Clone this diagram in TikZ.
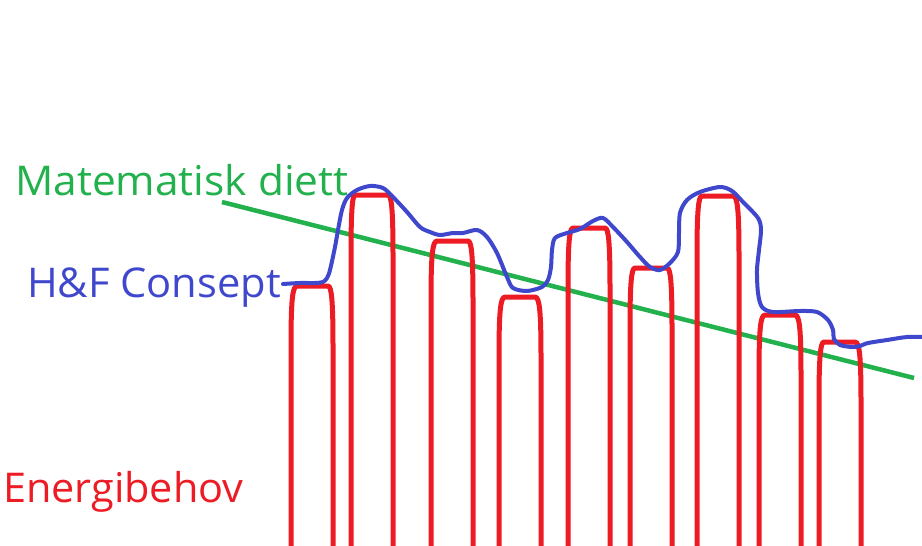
\documentclass[tikz,border=0pt]{standalone}
\usepackage{fontspec}
\setmainfont{Open Sans}
\definecolor{pgreen}{RGB}{34,177,76}
\definecolor{pred}{RGB}{237,28,36}
\definecolor{pblue}{RGB}{63,72,204}
\tikzset{
  lbl/.style={anchor=base west, inner sep=0pt, font=\fontsize{41}{48}\selectfont},
  redbar/.style={draw=pred, line width=5pt, line join=round},
  bluecurve/.style={draw=pblue, line width=4pt, line cap=round, line join=round},
  greenline/.style={draw=pgreen, line width=4.5pt},
}
\newcommand{\redarch}[5]{% lb rb lt rt top
  \draw[redbar] (#1,548) -- (#1,#5+60) .. controls (#1,#5+14) and (#1+1.5,#5) .. (#3,#5) -- (#4,#5) .. controls (#2-1.5,#5) and (#2,#5+14) .. (#2,#5+60) -- (#2,548);}
\begin{document}
\begin{tikzpicture}[x=1pt,y=-1pt]
\useasboundingbox (0,0) rectangle (922,546);
\fill[white] (0,0) rectangle (922,546);
\coordinate (gs) at (222,202);
\coordinate (ge) at (914,378);
\draw[greenline] (gs) -- (ge);
\redarch{291}{333}{297}{328}{286}
\redarch{351}{393}{355}{388}{195}
\redarch{431}{473}{437}{468}{241}
\redarch{499}{541}{505}{535}{297}
\redarch{568}{610}{573}{605}{228}
\redarch{630}{672}{635}{667}{268}
\redarch{697}{739}{702}{733}{196}
\redarch{759}{801}{765}{795}{315}
\redarch{819}{861}{824}{855}{342}
\draw[bluecurve] plot[smooth, tension=0.5] coordinates {
(283,284)(300,283)(315,283)(323,282)(327,278)(330,270)(335,247)(338,230)(342,210)(347,198)(357,190)(370,186)(383,188)(393,197)(407,212)(420,227)(430,232)(440,235)(453,233)(463,233)(477,230)(487,237)(497,253)(507,277)(513,288)(527,291)(542,287)(548,280)(551,267)(552,250)(555,238)(567,233)(580,229)(593,221)(603,218)(613,227)(627,242)(640,257)(650,267)(660,270)(670,263)(678,252)(679,233)(680,213)(687,200)(700,192)(720,187)(732,191)(743,202)(758,218)(761,230)(759,250)(757,270)(758,293)(762,307)(773,312)(800,311)(817,312)(828,320)(833,330)(834,339)(840,345)(852,347)(860,346)(868,343)(887,340)(907,337)(924,337)};
\node[lbl, text=pgreen, xscale=1.035] (mat) at (15,195) {Matematisk diett};
\node[lbl, text=pblue, xscale=1.015] (hf) at (27,297) {H\&F Consept};
\node[lbl, text=pred, xscale=1.01] (en) at (3,502) {Energibehov};
\end{tikzpicture}
\end{document}
